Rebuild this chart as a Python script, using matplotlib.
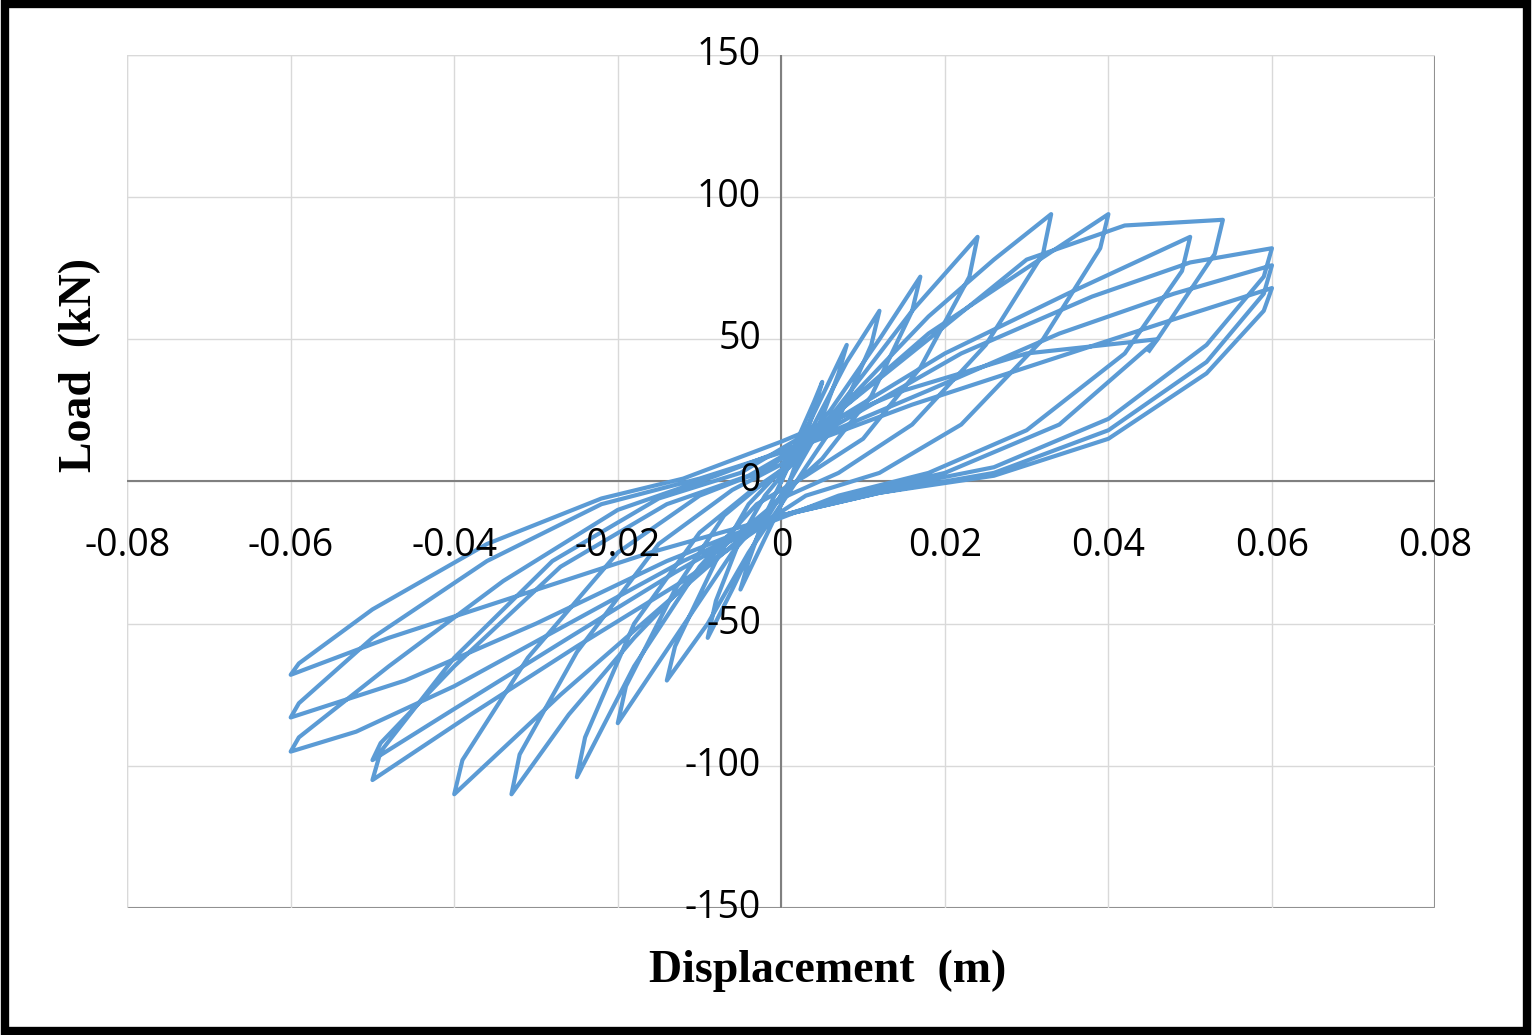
# -*- coding: utf-8 -*-
import matplotlib
matplotlib.use("Agg")
import matplotlib.pyplot as plt
from matplotlib.patches import Rectangle

# waypoints of the load path, cycle by cycle (displacement m, load kN)
cyc_x = [
    [0, 0.002, 0.004, 0.005, 0.004, 0.002, 0, -0.002, -0.004, -0.005, -0.004, -0.002, 0],
    [0, 0.003, 0.006, 0.008, 0.007, 0.004, 0.001, -0.002, -0.006, -0.009, -0.008, -0.005, -0.002, 0],
    [0, 0.004, 0.008, 0.012, 0.011, 0.007, 0.003, 0, -0.004, -0.009, -0.014, -0.013, -0.008, -0.004, 0],
    [0, 0.006, 0.012, 0.017, 0.016, 0.011, 0.005, 0, -0.006, -0.013, -0.020, -0.019, -0.013, -0.007, -0.002, 0.002],
    [0.002, 0.008, 0.016, 0.024, 0.023, 0.017, 0.010, 0.003, -0.003, -0.010, -0.018, -0.025, -0.024, -0.018, -0.010, -0.004, 0.001],
    [0.001, 0.008, 0.018, 0.026, 0.033, 0.032, 0.025, 0.016, 0.007, 0, -0.008, -0.018, -0.026, -0.033, -0.032, -0.025, -0.015, -0.006, 0],
    [0, 0.008, 0.018, 0.030, 0.040, 0.039, 0.032, 0.022, 0.012, 0.003, -0.005, -0.015, -0.027, -0.040, -0.039, -0.031, -0.020, -0.010, -0.002],
    [-0.002, 0.008, 0.020, 0.035, 0.050, 0.049, 0.042, 0.030, 0.018, 0.007, -0.002, -0.012, -0.025, -0.038, -0.050, -0.049, -0.040, -0.028, -0.015, -0.005],
    [-0.005, 0.005, 0.018, 0.030, 0.042, 0.054, 0.053, 0.046, 0.034, 0.020, 0.008, -0.002, -0.013, -0.026, -0.040, -0.050, -0.049, -0.040, -0.027, -0.014, -0.004],
    [-0.004, 0.008, 0.022, 0.038, 0.050, 0.060, 0.059, 0.052, 0.040, 0.026, 0.012, 0.000, -0.012, -0.026, -0.040, -0.052, -0.060, -0.059, -0.048, -0.034, -0.020, -0.008],
    [-0.008, 0.004, 0.018, 0.034, 0.048, 0.060, 0.059, 0.052, 0.040, 0.026, 0.012, 0.000, -0.014, -0.030, -0.046, -0.060, -0.059, -0.050, -0.036, -0.022, -0.010],
    [-0.010, 0.002, 0.016, 0.032, 0.048, 0.060, 0.059, 0.052, 0.040, 0.026, 0.012, 0.000, -0.016, -0.032, -0.048, -0.060, -0.059, -0.050, -0.036, -0.022, -0.012],
    [-0.012, 0.000, 0.015, 0.030, 0.046, 0.045],
]
cyc_y = [
    [0, 15, 28, 35, 25, 8, -8, -20, -32, -38, -28, -12, 0],
    [0, 18, 36, 48, 38, 15, 0, -14, -38, -55, -42, -20, -5, 2],
    [2, 20, 42, 60, 48, 22, 5, -8, -25, -50, -70, -58, -28, -8, 4],
    [4, 25, 50, 72, 60, 30, 8, -5, -25, -55, -85, -72, -38, -12, 0, 8],
    [8, 30, 60, 86, 72, 40, 15, 2, -8, -30, -65, -104, -90, -50, -18, -4, 5],
    [5, 28, 58, 78, 94, 80, 48, 20, 3, -6, -25, -55, -82, -110, -96, -60, -22, -3, 6],
    [6, 27, 52, 75, 94, 82, 50, 20, 3, -5, -20, -45, -75, -110, -98, -62, -25, -5, 4],
    [4, 24, 45, 66, 86, 74, 45, 18, 3, -5, -15, -35, -58, -82, -105, -95, -62, -28, -6, 3],
    [3, 20, 50, 78, 90, 92, 80, 50, 20, 3, -5, -14, -32, -55, -80, -98, -92, -65, -30, -8, 2],
    [2, 22, 45, 65, 77, 82, 72, 48, 22, 5, -3, -12, -28, -50, -72, -88, -95, -90, -65, -35, -10, 2],
    [2, 15, 32, 52, 66, 76, 66, 42, 18, 3, -4, -12, -28, -50, -70, -83, -78, -55, -28, -8, 1],
    [1, 12, 27, 42, 57, 68, 60, 38, 15, 2, -4, -12, -25, -40, -55, -68, -64, -45, -22, -6, 1],
    [1, 14, 32, 45, 50, 46],
]
x_ticks = [-0.08, -0.06, -0.04, -0.02, 0, 0.02, 0.04, 0.06, 0.08]
x_labels = ["-0.08", "-0.06", "-0.04", "-0.02", "0", "0.02", "0.04", "0.06", "0.08"]
y_ticks = [-150, -100, -50, 0, 50, 100, 150]


def main():
    fig = plt.figure(figsize=(15.32, 10.35), dpi=100)
    ax = fig.add_axes([0.083, 0.1227, 0.854, 0.8243])

    # path as one line
    xs, ys = [], []
    for cx, cy in zip(cyc_x, cyc_y):
        xs += cx
        ys += cy
    ax.plot(xs, ys, color="#5B9BD5", lw=3, solid_joinstyle="round")

    ax.set_xlim(-0.08, 0.08)
    ax.set_ylim(-150, 150)
    ax.set_xticks(x_ticks)
    ax.set_yticks(y_ticks)
    ax.grid(True, color="#D9D9D9", lw=1)
    ax.set_axisbelow(True)

    # axes through zero
    for s in ["top", "right", "left", "bottom"]:
        ax.spines[s].set_visible(False)
    ax.axhline(0, color="#808080", lw=1.5, zorder=1)
    ax.axvline(0, color="#808080", lw=1.5, zorder=1)
    ax.add_patch(Rectangle((0, 0), 1, 1, transform=ax.transAxes, fill=False,
                           ec="#808080", lw=1.5, zorder=0))
    ax.tick_params(length=0, labelbottom=False, labelleft=False)

    tf = dict(fontsize=27, family="Open Sans")
    for t, lab in zip(x_ticks, x_labels):
        ax.text(t, -16, lab, ha="center", va="top", **tf)
    for t in y_ticks:
        ax.text(-0.0025, t, str(t), ha="right", va="center", **tf)

    lf = dict(fontsize=33, family="Liberation Serif", fontweight="bold")
    fig.text(0.54, 0.062, "Displacement  (m)", ha="center", va="center", **lf)
    fig.text(0.052, 0.647, "Load  (kN)", ha="center", va="center", rotation=90, **lf)

    # black frame around the picture
    fig.patches.append(Rectangle((0.003, 0.004), 0.994, 0.992, transform=fig.transFigure,
                                 fill=False, ec="black", lw=6))
    fig.savefig("out.png")


if __name__ == '__main__':
    main()
